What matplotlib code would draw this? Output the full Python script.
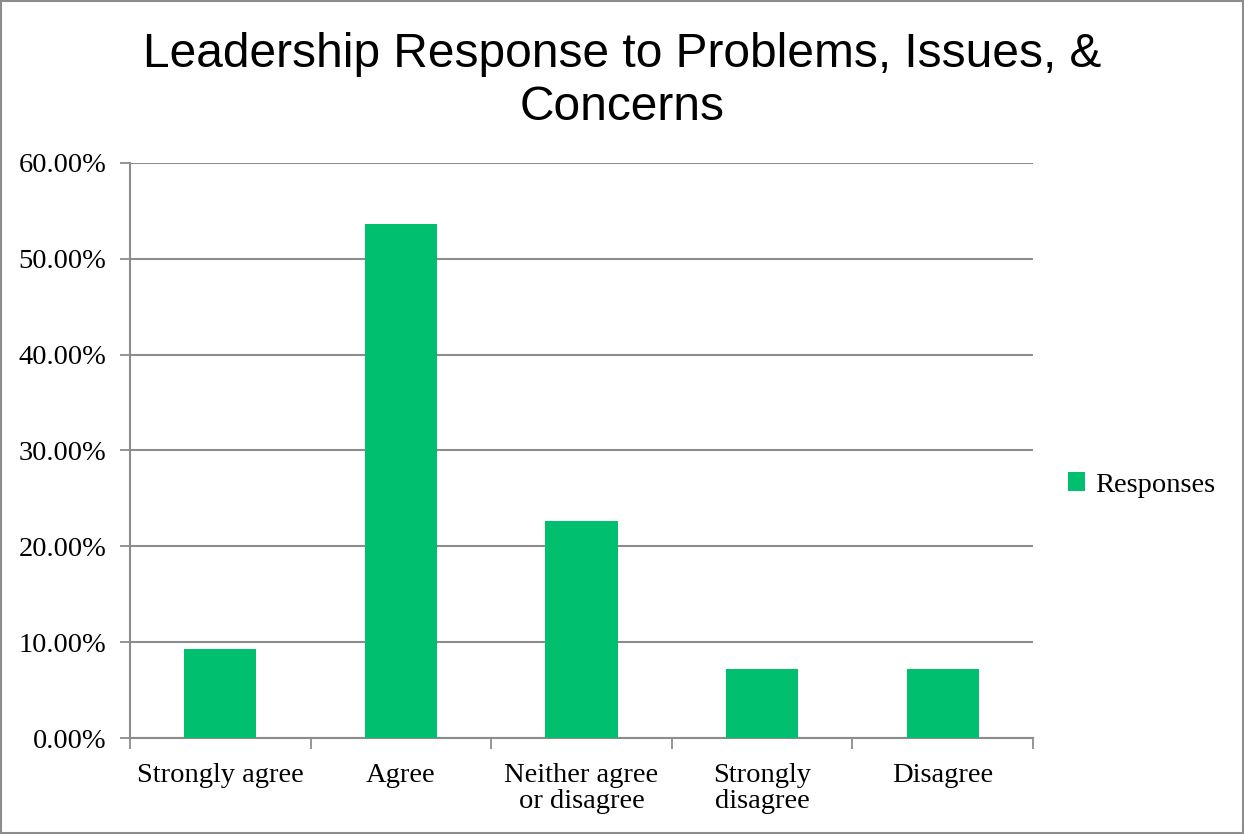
import matplotlib.pyplot as plt
import numpy as np
from matplotlib.patches import Rectangle

categories = ['Strongly agree', 'Agree', 'Neither agree\nor disagree', 'Strongly\ndisagree', 'Disagree']
responses = [9.28, 53.61, 22.68, 7.22, 7.22]
yticks = [0, 10, 20, 30, 40, 50, 60]
title = 'Leadership Response to Problems, Issues, &\nConcerns'

grid_c = '#8c8c8c'
bar_c = '#00bf6f'
serif = ['Liberation Serif', 'DejaVu Serif']
fs = 20.5

fig = plt.figure(figsize=(12.44, 8.34), dpi=100)
ax = fig.add_axes([0.1045, 0.1151, 0.7259, 0.6895])

x = np.arange(len(categories))
ax.bar(x, responses, width=0.4, color=bar_c, zorder=3, label='Responses')

ax.set_ylim(0, 60)
ax.set_xlim(-0.5, len(categories) - 0.5)
ax.set_yticks(yticks)
ax.set_yticklabels(['%.2f%%' % v for v in yticks], fontfamily=serif, fontsize=fs)
ax.yaxis.grid(True, color=grid_c, linewidth=1.5, zorder=0)
ax.tick_params(axis='y', length=7, width=1.3, color=grid_c, pad=10)

ax.set_xticks(x)
ax.set_xticklabels(categories, fontfamily=serif, fontsize=fs, linespacing=1.05)
ax.set_xticks(np.arange(-0.5, len(categories)), minor=True)
ax.tick_params(axis='x', which='major', length=0, pad=18)
ax.tick_params(axis='x', which='minor', length=8, width=1.3, color=grid_c)

for s in ['top', 'right']:
    ax.spines[s].set_visible(False)
for s in ['left', 'bottom']:
    ax.spines[s].set_color(grid_c)
    ax.spines[s].set_linewidth(1.5)

fig.text(0.5, 0.903, title, ha='center', va='center', fontsize=34.5,
         fontfamily=['Liberation Sans', 'DejaVu Sans'], linespacing=1.24)

ax.legend(loc='center left', bbox_to_anchor=(1.01, 0.44), frameon=False,
          prop={'family': serif, 'size': fs}, handlelength=0.6, handleheight=0.6,
          handletextpad=0.35)

fig.patches.append(Rectangle((0.001, 0.001), 0.998, 0.998, transform=fig.transFigure,
                             fill=False, edgecolor='#8c8c8c', linewidth=1.5))

fig.savefig('out.png', dpi=100)
